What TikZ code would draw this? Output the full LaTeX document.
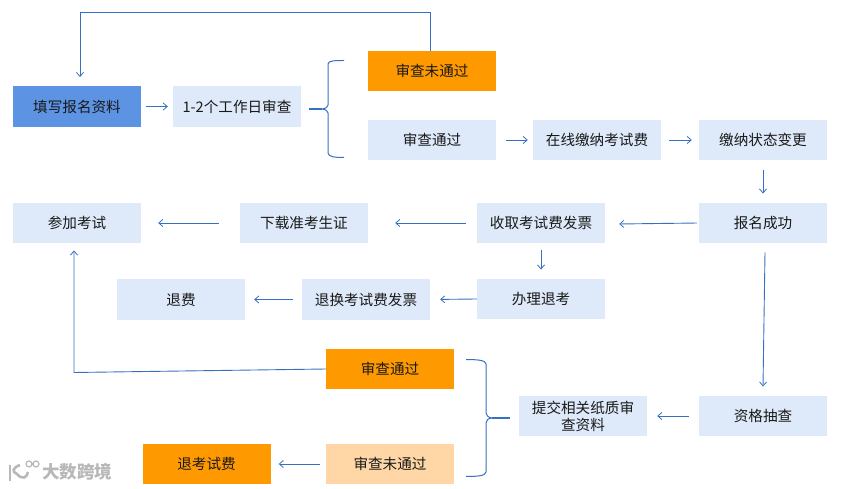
\documentclass[tikz,border=0pt]{standalone}
\usepackage{fontspec}
\setmainfont{Noto Sans CJK SC}
\usetikzlibrary{arrows.meta,calc}
\definecolor{boxblue}{HTML}{DEE9F9}
\definecolor{deepblue}{HTML}{5C93E2}
\definecolor{orange1}{HTML}{FF9900}
\definecolor{orange2}{HTML}{FFD6A6}
\definecolor{linecol}{HTML}{3570C2}
\tikzset{
  x=1pt,y=-1pt,
  bx/.style={minimum width=128pt,minimum height=40.5pt,inner sep=1pt,fill=boxblue,font=\fontsize{14.6}{18}\selectfont,text=black!90,align=center,anchor=center},
  bdeep/.style={bx,fill=deepblue},
  borange/.style={bx,fill=orange1},
  blight/.style={bx,fill=orange2},
  arr/.style={draw=linecol,line width=0.9pt,-{Straight Barb[length=4pt,width=7pt,line width=0.8pt]}},
  lin/.style={draw=linecol,line width=1pt,line join=round},
  thick stem/.style={draw=linecol,line width=1.7pt}
}
\begin{document}
\begin{tikzpicture}
\useasboundingbox (0,0) rectangle (865,489);
\node[bdeep] (fill) at (77,106.5) {填写报名资料};
\node[bx] (rev) at (237,106.5) {1-2个工作日审查};
\node[borange] (fail1) at (432,71) {审查未通过};
\node[bx] (pass1) at (432,140) {审查通过};
\node[bx] (pay) at (597,140) {在线缴纳考试费};
\node[bx] (state) at (763,140) {缴纳状态变更};
\node[bx] (ok) at (763,223) {报名成功};
\node[bx] (inv) at (541,223) {收取考试费发票};
\node[bx] (dl) at (304,223) {下载准考生证};
\node[bx] (exam) at (77,223) {参加考试};
\node[bx] (quit) at (541,299) {办理退考};
\node[bx] (swap) at (366,299.5) {退换考试费发票};
\node[bx] (refund) at (181,299.5) {退费};
\node[borange] (pass2) at (390,369) {审查通过};
\node[blight] (fail2) at (390,464) {审查未通过};
\node[borange] (rf2) at (206.5,464) {退考试费};
\node[bx] (sub) at (583,416) {提交相关纸质审\\[-1pt]查资料};
\node[bx] (chk) at (763,416) {资格抽查};

% connectors
\draw[arr,shorten <=5pt,shorten >=5pt] (fill.east) -- (rev.west);
\draw[arr,shorten <=10pt,shorten >=5pt] (pass1.east) -- (pay.west);
\draw[arr,shorten <=8pt,shorten >=7pt] (pay.east) -- (state.west);
\draw[arr,shorten <=10pt,shorten >=9pt] (state.south) -- (ok.north);
\draw[arr,shorten <=1pt,shorten >=1pt] ($(ok.west)+(-1,0)$) -- ($(inv.east)+(13,1)$);
\draw[arr,shorten <=11pt,shorten >=27pt] (inv.west) -- (dl.east);
\draw[arr,shorten <=21pt,shorten >=17pt] (dl.west) -- (exam.east);
\draw[arr,shorten <=7pt,shorten >=9pt] (inv.south) -- (quit.north);
\draw[arr,shorten <=0pt,shorten >=10pt] (quit.west) -- (swap.east);
\draw[arr,shorten <=9pt,shorten >=9pt] (swap.west) -- (refund.east);
\draw[arr,shorten <=10pt,shorten >=10pt] (chk.west) -- (sub.east);
\draw[arr,shorten <=6pt,shorten >=8pt] (fail2.west) -- (rf2.east);
\draw[arr] ($(ok.south)+(2,9)$) -- ($(chk.north)+(0,-9)$);
\draw[arr] ($(fail1.north)+(-2,0)$) -- ++(0,-38.5) -| ($(fill.north)+(3,-9)$);
\draw[arr] (pass2.west) -- (74,372.5) -- ($(exam.south)+(-3,7)$);

% braces
\coordinate (b1t) at (344,60.5);
\coordinate (b1b) at (344,157.5);
\coordinate (b1m) at (309,109);
\draw[lin] (b1t) .. controls (336,60.5) and (328,60.5) .. (328,64) -- (328,105) .. controls (328,107) and (326,108.5) .. (322,109)
  .. controls (326,109.5) and (328,111) .. (328,113) -- (328,153) .. controls (328,157) and (336,157.5) .. (b1b);
\draw[thick stem] (b1m) -- (322,109);
\coordinate (b2t) at (466,359.5);
\coordinate (b2b) at (466,476.5);
\coordinate (b2m) at (510,418);
\draw[lin] (b2t) .. controls (476,359.5) and (486,360) .. (486,364) -- (486,413) .. controls (486,415) and (488,417.5) .. (492,418)
  .. controls (488,418.5) and (486,420) .. (486,423) -- (486,472) .. controls (486,476) and (476,476.5) .. (b2b);
\draw[thick stem] (b2m) -- (492,418);

% watermark
\draw[black!28,line width=2.4pt] (10,465) -- (10,481);
\draw[black!28,line width=2.6pt] (20,465) .. controls (12,468) and (12,472) .. (17,474) .. controls (22,480) and (27,478) .. (28,472);
\draw[black!28,line width=1.2pt] (29,464) circle (3pt) (36,464) circle (3pt);
\node[font=\fontsize{17.5}{18}\selectfont\bfseries,text=black!28,inner sep=0pt] (wm) at (77,472) {大数跨境};
\end{tikzpicture}
\end{document}
